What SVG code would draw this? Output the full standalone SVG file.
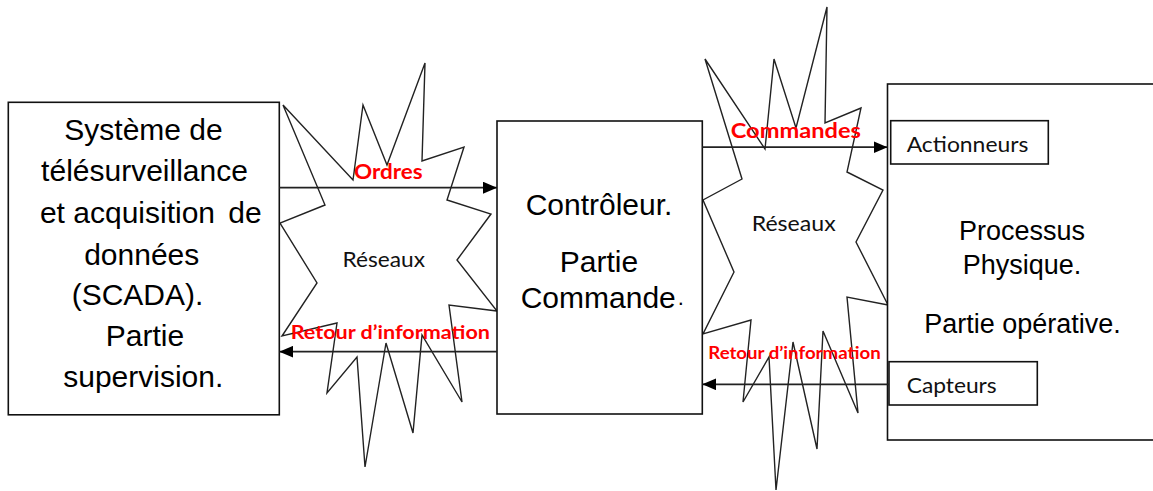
<svg xmlns="http://www.w3.org/2000/svg" width="1153" height="491" viewBox="0 0 1153 491">
<style>
.box{fill:#fff;stroke:#111;stroke-width:1.6}
.burst{fill:none;stroke:#222;stroke-width:1.4;stroke-linejoin:miter}
.arr{stroke:#222;stroke-width:1.8;fill:none}
.main{font-family:"Liberation Sans",Arial,sans-serif;fill:#000}
.lbl{font-family:Lato,"Liberation Sans",sans-serif;fill:#111}
.red{font-family:Lato,"Liberation Sans",sans-serif;font-weight:bold;fill:#ff0000}
</style>
<defs>
<marker id="ah" viewBox="0 0 14 12" refX="14" refY="6" markerWidth="14" markerHeight="12" markerUnits="userSpaceOnUse" orient="auto">
<path d="M0,0 L14,6 L0,12 Z" fill="#000"/>
</marker>
</defs>
<rect width="1153" height="491" fill="#fff"/>
<g id="network-left">
<polygon class="burst" points="283,105 353,180 363,105 387,165 425,63 422,161 464,147 447,200 491,214 457,260 497,311 449,305 462,402 422,335 413,433 386,343 365,467 357,357 327,393 337,323 282,336 317,283 280,223 325,205"/>
<text class="lbl" x="342.5" y="266.7" font-size="21" textLength="82.5" lengthAdjust="spacingAndGlyphs">Réseaux</text>
</g>
<g id="network-right">
<polygon class="burst" points="705,59 765,149 774,59 796,128 827,7 825,123 861,108 847,172 883,190 856,242 888,305 847,297 858,413 823,331 817,449 793,342 776,490 769,357 743,402 751,320 703,334 734,272 703,200 742,179"/>
<text class="lbl" x="751.7" y="231" font-size="21" textLength="84" lengthAdjust="spacingAndGlyphs">Réseaux</text>
</g>
<g id="scada">
<rect class="box" x="8.3" y="102.3" width="271" height="312.5"/>
<g class="main" font-size="30" text-anchor="middle">
<text x="143.5" y="140">Système de</text>
<text x="144.5" y="181">télésurveillance</text>
<text x="127.5" y="223">et acquisition</text>
<text x="245" y="223">de</text>
<text x="141.7" y="265">données</text>
<text x="137.5" y="305">(SCADA).</text>
<text x="145" y="345.5">Partie</text>
<text x="143.3" y="387">supervision.</text>
</g>
</g>
<g id="controleur">
<rect class="box" x="497" y="121" width="205.3" height="293"/>
<g class="main" font-size="30" text-anchor="middle">
<text x="599" y="215">Contrôleur.</text>
<text x="599" y="271.7">Partie</text>
</g>
<text class="main" font-size="30" x="520.7" y="308.3">Commande<tspan font-size="22" dx="2" dy="-3">.</tspan></text>
</g>
<g id="processus">
<rect class="box" x="887.5" y="84" width="280" height="356"/>
<g class="main" font-size="27" text-anchor="middle">
<text x="1022" y="240">Processus</text>
<text x="1022" y="274">Physique.</text>
<text x="1022.5" y="333.3">Partie opérative.</text>
</g>
</g>
<g id="actionneurs">
<rect class="box" x="890.7" y="120.7" width="157.6" height="43.3"/>
<text class="lbl" x="906.7" y="151.7" font-size="21" textLength="121.7" lengthAdjust="spacingAndGlyphs">Actionneurs</text>
</g>
<g id="capteurs">
<rect class="box" x="889" y="361.7" width="148.3" height="43.3"/>
<text class="lbl" x="906.7" y="393.3" font-size="21" textLength="90" lengthAdjust="spacingAndGlyphs">Capteurs</text>
</g>
<g id="connectors">
<line class="arr" x1="279.3" y1="187.7" x2="497" y2="187.7" marker-end="url(#ah)"/>
<line class="arr" x1="497" y1="351.7" x2="279.3" y2="351.7" marker-end="url(#ah)"/>
<line class="arr" x1="702.3" y1="147.2" x2="887.5" y2="147.2" marker-end="url(#ah)"/>
<line class="arr" x1="889" y1="384.3" x2="702.3" y2="384.3" marker-end="url(#ah)"/>
<text class="red" x="354" y="179.3" font-size="20.5" textLength="68.7" lengthAdjust="spacingAndGlyphs">Ordres</text>
<text class="red" x="290.7" y="339.3" font-size="18" textLength="199.3" lengthAdjust="spacingAndGlyphs">Retour d’information</text>
<text class="red" x="730.7" y="138.3" font-size="21" textLength="130.3" lengthAdjust="spacingAndGlyphs">Commandes</text>
<text class="red" x="708.3" y="359" font-size="16.5" textLength="172.4" lengthAdjust="spacingAndGlyphs">Retour d’information</text>
</g>
</svg>
